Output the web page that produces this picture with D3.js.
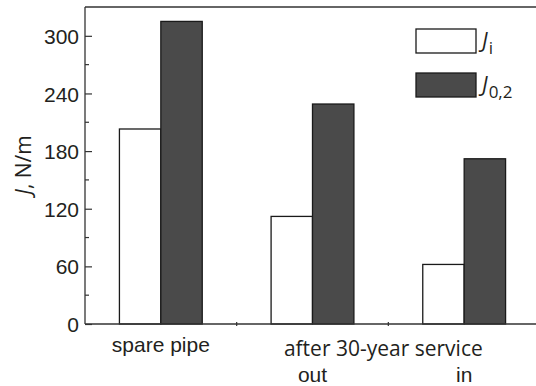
<!DOCTYPE html>
<html>
<head>
<meta charset="utf-8">
<script src="https://cdn.jsdelivr.net/npm/d3@7"></script>
<style>
  body { margin: 0; background: #fff; }
  svg { display: block; font-family: "Open Sans", sans-serif; }
  text { fill: #231f20; }
</style>
</head>
<body>
<div id="chart"></div>
<script>
var categories = ["spare pipe", "out", "in"];
var seriesNames = ["Ji", "J02"];
var valuesJi = [203, 112, 62];
var valuesJ02 = [315, 229, 172];
var yTicks = [0, 60, 120, 180, 240, 300];
var yMinorTicks = [30, 90, 150, 210, 270];
var groupNote = "after 30-year service";

var width = 536, height = 386;
var margin = {left: 85, top: 7, bottom: 62};
var plotRight = 540;
var colors = {Ji: "#ffffff", J02: "#4a4a4a"};

var svg = d3.select("#chart").append("svg")
    .attr("width", width)
    .attr("height", height);

var x = d3.scaleBand()
    .domain(categories)
    .range([margin.left, plotRight])
    .paddingInner(0.454)
    .paddingOuter(0.227);

var xSub = d3.scaleBand()
    .domain(seriesNames)
    .range([0, x.bandwidth()]);

var y = d3.scaleLinear()
    .domain([0, 330])
    .range([height - margin.bottom, margin.top]);

var rows = categories.map(function(c, i) {
    return {cat: c, Ji: valuesJi[i], J02: valuesJ02[i]};
});

// bars
var groups = svg.selectAll("g.grp")
    .data(rows)
    .enter()
    .append("g")
    .attr("class", "grp")
    .attr("transform", function(d) { return "translate(" + x(d.cat) + ",0)"; });

groups.selectAll("rect")
    .data(function(d) { return seriesNames.map(function(k) { return {key: k, value: d[k]}; }); })
    .enter()
    .append("rect")
    .attr("x", function(d) { return xSub(d.key); })
    .attr("y", function(d) { return y(d.value); })
    .attr("width", xSub.bandwidth())
    .attr("height", function(d) { return y(0) - y(d.value); })
    .style("fill", function(d) { return colors[d.key]; })
    .style("stroke", "#1a1a1a")
    .style("stroke-width", 1.3);

// frame: top line
svg.append("line")
    .attr("x1", margin.left).attr("x2", width)
    .attr("y1", margin.top).attr("y2", margin.top)
    .style("stroke", "#333").style("stroke-width", 1.3);

// y axis
var yAxis = d3.axisRight(y)
    .tickValues(yTicks)
    .tickSize(7)
    .tickFormat(d3.format("d"));
var gy = svg.append("g")
    .attr("transform", "translate(" + margin.left + ",0)")
    .call(yAxis);
gy.select(".domain").remove();
gy.selectAll(".tick line").style("stroke", "#333").style("stroke-width", 1.2);
gy.selectAll(".tick text")
    .attr("x", -6)
    .attr("dy", "0.36em")
    .style("text-anchor", "end")
    .style("font-size", "21px");
svg.append("line")
    .attr("x1", margin.left).attr("x2", margin.left)
    .attr("y1", margin.top).attr("y2", y(0))
    .style("stroke", "#333").style("stroke-width", 1.3);

svg.append("g")
    .attr("transform", "translate(" + margin.left + ",0)")
    .selectAll("line")
    .data(yMinorTicks)
    .enter()
    .append("line")
    .attr("x1", 0).attr("x2", 4)
    .attr("y1", function(d) { return y(d); })
    .attr("y2", function(d) { return y(d); })
    .style("stroke", "#333").style("stroke-width", 1.2);

// x axis
var xAxis = d3.axisBottom(x).tickSize(0).tickPadding(0);
var gx = svg.append("g")
    .attr("transform", "translate(0," + y(0) + ")")
    .call(xAxis);
gx.select(".domain").remove();
gx.selectAll(".tick text")
    .style("font-size", "21px")
    .attr("y", function(d) { return d === "spare pipe" ? 28 : 58; })
    .attr("dy", 0);
svg.append("line")
    .attr("x1", margin.left).attr("x2", width)
    .attr("y1", y(0)).attr("y2", y(0))
    .style("stroke", "#333").style("stroke-width", 1.3);

// small separators between groups
svg.selectAll("line.sep")
    .data(categories.slice(1))
    .enter()
    .append("line")
    .attr("class", "sep")
    .attr("x1", function(d) { return x(d) - x.step() * x.paddingInner() / 2; })
    .attr("x2", function(d) { return x(d) - x.step() * x.paddingInner() / 2; })
    .attr("y1", y(0) - 2).attr("y2", y(0) + 2)
    .style("stroke", "#333").style("stroke-width", 1.2);

// shared label for the two aged-pipe groups
svg.append("text")
    .attr("x", (x("out") + x("in") + x.bandwidth()) / 2 - 5)
    .attr("y", y(0) + 32)
    .style("text-anchor", "middle")
    .style("font-size", "21px")
    .text(groupNote);

// y label
var ylab = svg.append("text")
    .attr("transform", "translate(31,165) rotate(-90)")
    .style("text-anchor", "middle")
    .style("font-size", "21px");
ylab.append("tspan").style("font-style", "italic").text("J");
ylab.append("tspan").text(", N/m");

// legend
var legend = [
    {key: "Ji", sub: "i", yTop: 29},
    {key: "J02", sub: "0,2", yTop: 73}
];
var lg = svg.selectAll("g.leg")
    .data(legend)
    .enter()
    .append("g")
    .attr("class", "leg")
    .attr("transform", function(d) { return "translate(416," + d.yTop + ")"; });
lg.append("rect")
    .attr("width", 60).attr("height", 24)
    .style("fill", function(d) { return colors[d.key]; })
    .style("stroke", "#1a1a1a")
    .style("stroke-width", 1.3);
var lt = lg.append("text")
    .attr("x", 66).attr("y", 19)
    .style("font-size", "21px");
lt.append("tspan").style("font-style", "italic").text("J");
lt.append("tspan").attr("dy", 6).attr("dx", 1).style("font-size", "17px").text(function(d) { return d.sub; });
</script>
</body>
</html>
